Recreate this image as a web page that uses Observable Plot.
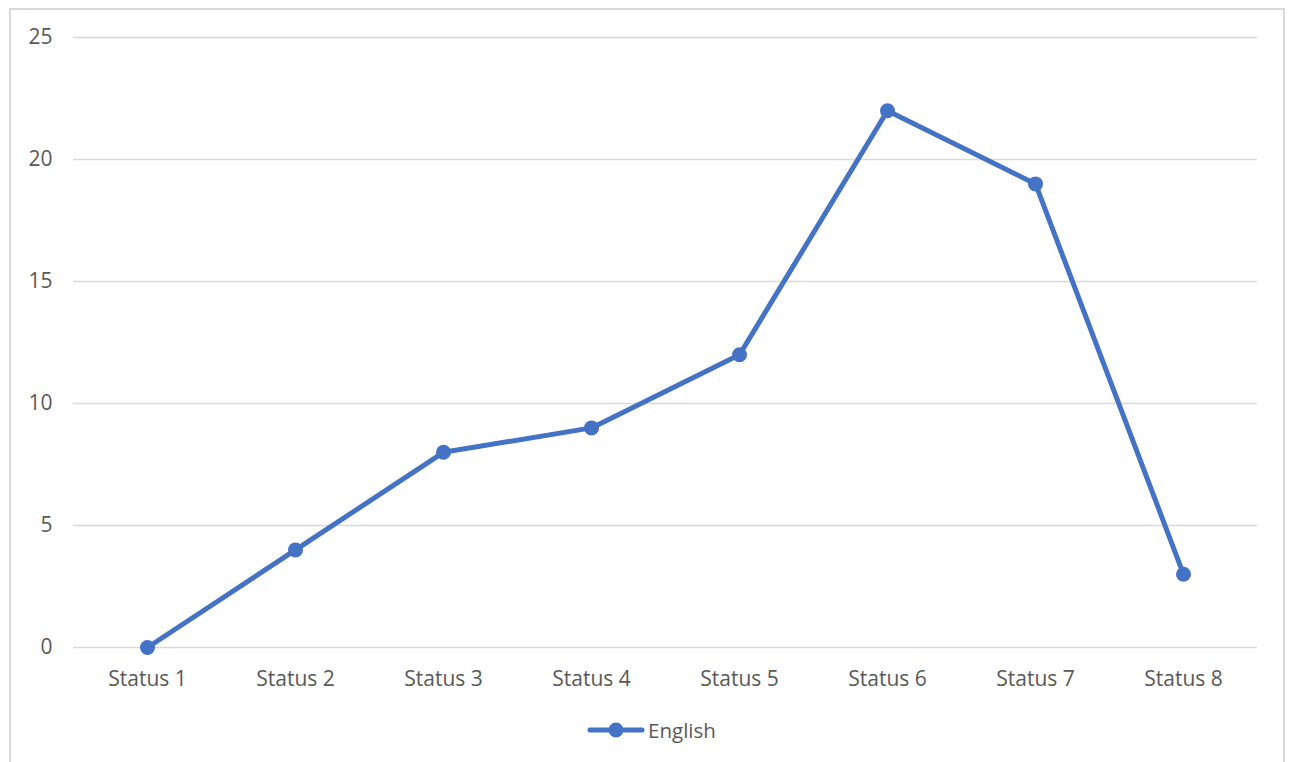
<!DOCTYPE html>
<html><head><meta charset="utf-8">
<script src="https://cdn.jsdelivr.net/npm/d3@7"></script>
<script src="https://cdn.jsdelivr.net/npm/@observablehq/plot@0.6"></script>
<style>
body{margin:0;background:#fff;font-family:"Open Sans",sans-serif;}
#frame{position:absolute;left:9px;top:8px;width:1276px;height:780px;border:2px solid #d9d9d9;box-sizing:border-box;background:#fff;}
#legend{display:flex;justify-content:center;align-items:center;margin-top:6px;padding-left:9px;font-size:20.5px;color:#595959;}
</style></head>
<body>
<div id="frame"><div id="chart"></div><div id="legend"></div></div>
<script>
const categories = ["Status 1","Status 2","Status 3","Status 4","Status 5","Status 6","Status 7","Status 8"];
const english = [0,4,8,9,12,22,19,3];
const yTicks = [0,5,10,15,20,25];
const seriesName = "English";
const color = "#4472C4";

const data = categories.map((c,i)=>({cat:c, v:english[i]}));

const plot = Plot.plot({
  width:1272, height:700,
  marginLeft:62, marginRight:26, marginTop:27, marginBottom:63,
  style:{fontFamily:"'Open Sans',sans-serif", fontSize:"21px", color:"#595959", background:"#fff"},
  x:{type:"point", domain:categories, padding:0.5, label:null},
  y:{domain:[0,25], label:null},
  marks:[
    Plot.gridY(yTicks,{stroke:"#d9d9d9", strokeOpacity:1, strokeWidth:1.3}),
    Plot.axisY(yTicks,{tickSize:0, tickPadding:21, fill:"#595959", fontSize:21, label:null}),
    Plot.axisX({tickSize:0, tickPadding:24, fill:"#595959", fontSize:21, label:null}),
    Plot.line(data,{x:"cat", y:"v", stroke:color, strokeWidth:5, strokeLinejoin:"round", strokeLinecap:"round"}),
    Plot.dot(data,{x:"cat", y:"v", r:7.5, fill:color, stroke:"none"})
  ]
});
document.getElementById("chart").appendChild(plot);

const lg = document.getElementById("legend");
lg.innerHTML = `<svg width="58" height="20" style="margin-right:3px"><line x1="3" y1="10" x2="55" y2="10" stroke="${color}" stroke-width="5" stroke-linecap="round"/><circle cx="29" cy="10" r="7.5" fill="${color}"/></svg><span>${seriesName}</span>`;
</script>
</body></html>
